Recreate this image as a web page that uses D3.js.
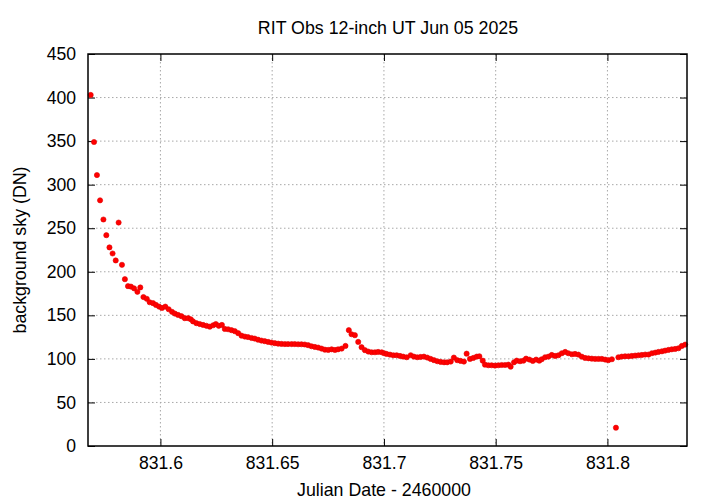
<!DOCTYPE html>
<html>
<head>
<meta charset="utf-8">
<script src="https://cdn.jsdelivr.net/npm/d3@7"></script>
<style>
  html, body { margin: 0; padding: 0; background: #fff; }
  text { font-family: "Liberation Sans", Arial, sans-serif; fill: #000; }
</style>
</head>
<body>
<svg id="chart" width="720" height="504"></svg>
<script>
const title = "RIT Obs 12-inch UT Jun 05 2025";
const xLabel = "Julian Date - 2460000";
const yLabel = "background sky (DN)";
const xTicks = [831.6, 831.65, 831.7, 831.75, 831.8];
const xTickLabels = ["831.6", "831.65", "831.7", "831.75", "831.8"];
const yTicks = [0, 50, 100, 150, 200, 250, 300, 350, 400, 450];

const jd = [
  831.5688, 831.5703, 831.5716, 831.5730, 831.5745, 831.5758, 831.5772, 831.5786, 831.5800, 831.5813,
  831.5828, 831.5841, 831.5855, 831.5868, 831.5882, 831.5897, 831.5910, 831.5924, 831.5939, 831.5952,
  831.5967, 831.5980, 831.5994, 831.6007, 831.6022, 831.6037, 831.6052, 831.6065, 831.6079, 831.6094,
  831.6109, 831.6124, 831.6136, 831.6146, 831.6161, 831.6176, 831.6191, 831.6206, 831.6221, 831.6236,
  831.6248, 831.6261, 831.6275, 831.6288, 831.6303, 831.6318, 831.6333, 831.6348, 831.6363, 831.6378,
  831.6392, 831.6408, 831.6422, 831.6437, 831.6452, 831.6467, 831.6482, 831.6497, 831.6512, 831.6527,
  831.6542, 831.6557, 831.6571, 831.6587, 831.6601, 831.6616, 831.6631, 831.6646, 831.6661, 831.6676,
  831.6691, 831.6706, 831.6721, 831.6736, 831.6751, 831.6766, 831.6781, 831.6795, 831.6811, 831.6828,
  831.6843, 831.6855, 831.6870, 831.6885, 831.6900, 831.6915, 831.6930, 831.6945, 831.6960, 831.6974,
  831.6990, 831.7001, 831.7012, 831.7027, 831.7042, 831.7057, 831.7072, 831.7086, 831.7102, 831.7120,
  831.7134, 831.7149, 831.7164, 831.7179, 831.7194, 831.7209, 831.7224, 831.7239, 831.7254, 831.7269,
  831.7283, 831.7299, 831.7313, 831.7328, 831.7343, 831.7358, 831.7370, 831.7385, 831.7400, 831.7415,
  831.7427, 831.7442, 831.7452, 831.7467, 831.7482, 831.7497, 831.7512, 831.7527, 831.7542, 831.7557,
  831.7567, 831.7582, 831.7594, 831.7609, 831.7624, 831.7636, 831.7651, 831.7666, 831.7681, 831.7695,
  831.7706, 831.7721, 831.7736, 831.7751, 831.7766, 831.7781, 831.7796, 831.7811, 831.7825, 831.7841,
  831.7855, 831.7870, 831.7885, 831.7900, 831.7915, 831.7930, 831.7945, 831.7960, 831.7975, 831.7990,
  831.8004, 831.8020, 831.8038, 831.8049, 831.8064, 831.8079, 831.8094, 831.8109, 831.8124, 831.8139,
  831.8154, 831.8169, 831.8184, 831.8199, 831.8214, 831.8228, 831.8244, 831.8258, 831.8273, 831.8288,
  831.8303, 831.8318, 831.8333, 831.8348
];
const sky = [
  403, 349, 311, 282, 260, 242, 228, 221, 213, 256.5,
  208, 191.5, 183.5, 183, 181, 177, 182, 171, 169, 165,
  164, 162, 160, 158.5, 160, 157, 154, 152, 150.5, 149,
  146.7, 146.7, 145.5, 143, 141, 140, 139, 138, 137, 138.6,
  140, 138, 139, 134.4, 134, 133, 131.8, 129.5, 126.7, 125.6,
  125, 124, 123.3, 122, 121, 120.3, 119.5, 118.7, 118, 117.5,
  117.2, 117, 117, 117, 117, 116.8, 116.8, 116.5, 115.7, 114.5,
  113.7, 113, 111.8, 110.6, 110.3, 111, 110.3, 111, 111.8, 114.9,
  133, 128.3, 127.2, 119.5, 113.4, 110, 108.4, 107.6, 107.6, 108,
  107.6, 106.5, 105.7, 104.9, 104.2, 104.2, 103.4, 102.6, 101.9, 104.2,
  102.6, 101.9, 102.2, 102.6, 101.5, 100, 98.5, 97.3, 96.5, 96.1,
  96.1, 96.9, 101.5, 98.5, 97.7, 96.9, 106, 100, 101.1, 102.6,
  103, 98, 93.4, 92.7, 92.7, 92.3, 92.7, 93, 93, 93.4,
  91.1, 96.1, 98, 97.3, 98, 100.3, 99.2, 97.7, 99.2, 98,
  99.6, 101.9, 102.6, 104.5, 103.4, 104.2, 106.5, 108, 106.5, 105.3,
  105.7, 104.9, 102.6, 101.1, 100.7, 100.3, 100, 100, 100, 99.2,
  98.5, 99.6, 21, 101.9, 102.6, 103, 103, 103.4, 103.8, 104.2,
  104.5, 105, 105, 106.5, 107.2, 108, 108.7, 109.5, 110.3, 111,
  111.4, 112.2, 114.9, 116.4
];

const W = 720, H = 504;
const m = { left: 88, right: 687, top: 54, bottom: 446 };
const svg = d3.select("#chart");

const x = d3.scaleLinear().domain([831.5676, 831.8356]).range([m.left, m.right]);
const y = d3.scaleLinear().domain([0, 450]).range([m.bottom, m.top]);

// grid
const grid = svg.append("g");
grid.selectAll("line.gx").data(xTicks).enter().append("line")
  .attr("x1", d => x(d)).attr("x2", d => x(d))
  .attr("y1", m.top).attr("y2", m.bottom)
  .attr("stroke", "#a8a8a8").attr("stroke-width", 1).attr("stroke-dasharray", "1.5,2.5");
grid.selectAll("line.gy").data(yTicks.filter(d => d > 0 && d < 450)).enter().append("line")
  .attr("y1", d => y(d)).attr("y2", d => y(d))
  .attr("x1", m.left).attr("x2", m.right)
  .attr("stroke", "#a8a8a8").attr("stroke-width", 1).attr("stroke-dasharray", "1.5,2.5");

// axes with inward ticks
const fs = "17.6px";
const xAxisB = d3.axisBottom(x).tickValues(xTicks).tickFormat((d, i) => xTickLabels[i]).tickSizeInner(-7).tickSizeOuter(0).tickPadding(15);
const gxB = svg.append("g").attr("transform", `translate(0,${m.bottom})`).call(xAxisB);
gxB.select(".domain").remove();
gxB.selectAll("text").attr("font-size", fs).attr("font-family", "Liberation Sans, Arial, sans-serif").attr("fill", "#000").attr("dy", "0.71em").attr("y", 11);
gxB.selectAll("line").attr("stroke", "#000");

const xAxisT = d3.axisTop(x).tickValues(xTicks).tickFormat("").tickSizeInner(-7).tickSizeOuter(0);
const gxT = svg.append("g").attr("transform", `translate(0,${m.top})`).call(xAxisT);
gxT.select(".domain").remove();
gxT.selectAll("line").attr("stroke", "#000");

const yAxisL = d3.axisLeft(y).tickValues(yTicks).tickSizeInner(-7).tickSizeOuter(0).tickPadding(12);
const gyL = svg.append("g").attr("transform", `translate(${m.left},0)`).call(yAxisL);
gyL.select(".domain").remove();
gyL.selectAll("text").attr("font-size", fs).attr("font-family", "Liberation Sans, Arial, sans-serif").attr("fill", "#000");
gyL.selectAll("line").attr("stroke", "#000");

const yAxisR = d3.axisRight(y).tickValues(yTicks).tickFormat("").tickSizeInner(-7).tickSizeOuter(0);
const gyR = svg.append("g").attr("transform", `translate(${m.right},0)`).call(yAxisR);
gyR.select(".domain").remove();
gyR.selectAll("line").attr("stroke", "#000");

// points
svg.append("g").selectAll("circle").data(jd.map((d, i) => [d, sky[i]])).enter().append("circle")
  .attr("cx", d => x(d[0])).attr("cy", d => y(d[1])).attr("r", 2.6)
  .attr("fill", "#ff0000").attr("stroke", "#e00000").attr("stroke-width", 0.6);

// border
svg.append("rect").attr("x", m.left).attr("y", m.top)
  .attr("width", m.right - m.left).attr("height", m.bottom - m.top)
  .attr("fill", "none").attr("stroke", "#000").attr("stroke-width", 1.5);

// labels
svg.append("text").attr("x", 388).attr("y", 34).attr("text-anchor", "middle")
  .attr("font-size", "17.8px").text(title);
svg.append("text").attr("x", 384).attr("y", 496).attr("text-anchor", "middle")
  .attr("font-size", "17.8px").text(xLabel);
svg.append("text").attr("transform", "translate(26,250) rotate(-90)").attr("text-anchor", "middle")
  .attr("font-size", "17.8px").text(yLabel);
</script>
</body>
</html>
